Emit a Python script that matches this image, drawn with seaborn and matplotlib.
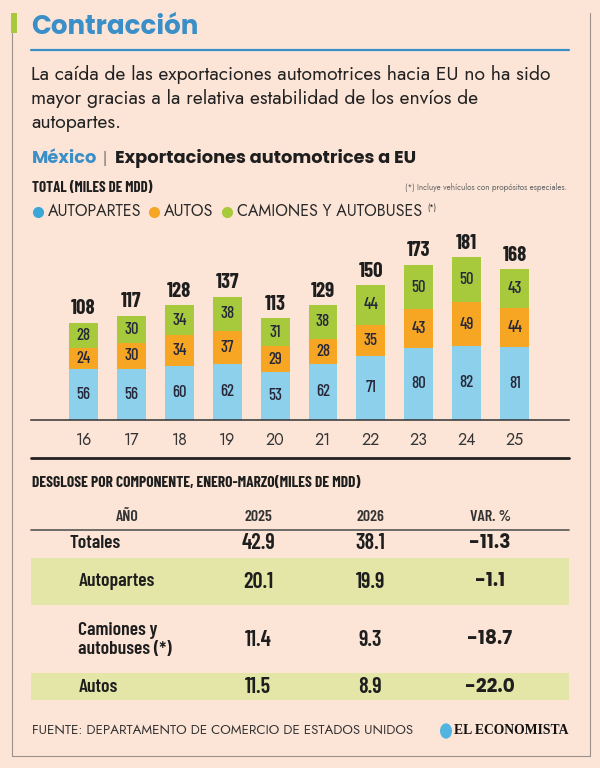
import matplotlib
matplotlib.use('Agg')
import matplotlib.pyplot as plt
import seaborn as sns
import pandas as pd
from matplotlib.patches import Rectangle, Circle
from matplotlib.lines import Line2D
from matplotlib import font_manager as fm

# chart data (miles de MDD)
years = ['16', '17', '18', '19', '20', '21', '22', '23', '24', '25']
autopartes = [56, 56, 60, 62, 53, 62, 71, 80, 82, 81]
autos = [24, 30, 34, 37, 29, 28, 35, 43, 49, 44]
camiones = [28, 30, 34, 38, 31, 38, 44, 50, 50, 43]
totales = [108, 117, 128, 137, 113, 129, 150, 173, 181, 168]

# table data
tbl_labels = ['Totales', 'Autopartes', 'Camiones y\nautobuses (*)', 'Autos']
tbl_2025 = [42.9, 20.1, 11.4, 11.5]
tbl_2026 = [38.1, 19.9, 9.3, 8.9]
tbl_var = [-11.3, -1.1, -18.7, -22.0]

BG = '#FCE5D7'
BLUE = '#8DD0EB'
ORANGE = '#F6A623'
GREEN = '#A7CA3C'
TITLE_BLUE = '#3B8FC8'
BAND = '#E3E6A6'
FRAME = '#9C918B'
DARK = '#1E1E1E'

fonts = fm.fontManager.ttflist
names = {f.name for f in fonts}


def pick(*cands):
    return next(c for c in cands if c in names)


def pick_bold(*cands):
    return next(c for c in cands if any(f.name == c and f.weight in (700, 'bold') for f in fonts))


GEOM = pick('Jost', 'Futura', 'League Spartan', 'Lato', 'DejaVu Sans')
GEOM_B = pick_bold('Jost', 'League Spartan', 'Outfit', 'Kumbh Sans', 'Poppins', 'Montserrat', 'Lato', 'DejaVu Sans')
COND = pick('Barlow Condensed', 'Archivo Narrow', 'Asap Condensed', 'DejaVu Sans')

sns.set_theme(style='white', rc={'figure.facecolor': BG, 'axes.facecolor': BG})
plt.rcParams['font.family'] = [GEOM, 'DejaVu Sans']

W, H = 600, 768


def fx(x):
    return x / W


def fy(y):
    return 1 - y / H


fig = plt.figure(figsize=(6, 7.68), dpi=100)

# frame and side mark
fig.add_artist(Rectangle((fx(11), fy(33)), 6 / W, 20 / H, color=GREEN, lw=0))
fig.add_artist(Line2D([fx(11.5), fx(11.5)], [fy(33), fy(756)], color=FRAME, lw=0.8))
fig.add_artist(Line2D([fx(590), fx(590)], [fy(13), fy(756)], color=FRAME, lw=0.8))
fig.add_artist(Line2D([fx(11.5), fx(590)], [fy(756), fy(756)], color=FRAME, lw=0.8))

# title + intro
fig.text(fx(31), fy(28), 'Contracción', family=GEOM_B, weight='bold', fontsize=18.8,
         color=TITLE_BLUE, va='center')
fig.add_artist(Line2D([fx(31), fx(569)], [fy(49.5), fy(49.5)], color=TITLE_BLUE, lw=1.6))
intro = ['La caída de las exportaciones automotrices hacia EU no ha sido',
         'mayor gracias a la relativa estabilidad de los envíos de',
         'autopartes.']
for k, line in enumerate(intro):
    fig.text(fx(31), fy(75 + 24 * k), line, fontsize=13.9, color='#222222', va='center')

fig.text(fx(32), fy(159), 'México', family=GEOM_B, weight='bold', fontsize=12.8,
         color=TITLE_BLUE, va='center')
fig.text(fx(103), fy(159), '|', fontsize=11, color='#666666', va='center')
fig.text(fx(115), fy(159), 'Exportaciones automotrices a EU', family=GEOM_B, weight='bold',
         fontsize=12.8, color=DARK, va='center')
fig.text(fx(32), fy(188), 'TOTAL (MILES DE MDD)', family=COND,
         weight='bold', fontsize=10.8, color=DARK, va='center')
fig.text(fx(567), fy(187), '(*) Incluye vehículos con propósitos especiales.',
         fontsize=5.8, color='#666666', ha='right', va='center')

# legend
leg = [(38, 48, 'AUTOPARTES', '#3BA7D8'), (154, 164, 'AUTOS', ORANGE),
       (227, 237, 'CAMIONES Y AUTOBUSES', GREEN)]
for dx, tx, lab, col in leg:
    fig.add_artist(Line2D([fx(dx)], [fy(212)], marker='o', ms=7, color=col, ls=''))
    fig.text(fx(tx), fy(212), lab, fontsize=11.5, color='#2A2A2A', va='center')
fig.text(fx(427), fy(208), '(*)', fontsize=5.5, color='#2A2A2A', va='center')

# stacked bars
df = pd.DataFrame({'year': years, 'autopartes': autopartes, 'autos': autos, 'camiones': camiones})
df['mid'] = df['autopartes'] + df['autos']
df['top'] = df['mid'] + df['camiones']

ax = fig.add_axes([fx(31), fy(419.5), fx(569) - fx(31), (419.5 - 230) / H])
for col, c in [('top', GREEN), ('mid', ORANGE), ('autopartes', BLUE)]:
    sns.barplot(data=df, x='year', y=col, color=c, saturation=1, width=0.605,
                linewidth=0, ax=ax, order=years)

for i in range(len(years)):
    base = 0
    for vals in (autopartes, autos, camiones):
        ax.text(i, base + vals[i] / 2, str(vals[i]), ha='center', va='center',
                family=COND, weight='medium', fontsize=12, color='#26283A')
        base += vals[i]
    ax.annotate(str(totales[i]), (i, df['top'][i]), xytext=(0, 10), textcoords='offset points',
                ha='center', va='center', family=COND, weight='bold', fontsize=15, color=DARK)

ax.set_xlim(-1.094, 10.134)
ax.set_ylim(0, 211.7)
ax.set_xlabel('')
ax.set_ylabel('')
ax.set_yticks([])
sns.despine(ax=ax, left=True)
ax.spines['bottom'].set_color('#333333')
ax.spines['bottom'].set_linewidth(1.1)
ax.tick_params(axis='x', length=0, pad=9, labelsize=11.5, labelcolor='#333333')

fig.add_artist(Line2D([fx(31), fx(569)], [fy(458), fy(458)], color='#222222', lw=2))

# table
fig.text(fx(32), fy(483), 'DESGLOSE POR COMPONENTE, ENERO-MARZO(MILES DE MDD)', family=COND,
         weight='bold', fontsize=11.2, color=DARK, va='center')
hdr_y = 517
for x, lab in [(127, 'AÑO'), (258, '2025'), (370, '2026'), (490, 'VAR. %')]:
    fig.text(fx(x), fy(hdr_y), lab, family=COND, weight='semibold',
             fontsize=11.5, color='#333333', ha='center', va='center')
fig.add_artist(Line2D([fx(31), fx(569)], [fy(530), fy(530)], color='#555555', lw=1.2))

for top, bot in [(558, 605), (673, 700)]:
    fig.add_artist(Rectangle((fx(31), fy(bot)), fx(569) - fx(31), (bot - top) / H,
                             color=BAND, lw=0))

row_y = [543, 582, 640, 687]
row_x = [70, 78.5, 78.5, 78.5]
for k in range(len(tbl_labels)):
    fig.text(fx(row_x[k]), fy(row_y[k]), tbl_labels[k], family=COND,
             weight='semibold', fontsize=14, color=DARK, va='center', linespacing=1.15)
    fig.text(fx(258), fy(row_y[k]), f'{tbl_2025[k]:.1f}', family=COND,
             weight='semibold', fontsize=16, color=DARK, ha='center', va='center')
    fig.text(fx(370), fy(row_y[k]), f'{tbl_2026[k]:.1f}', family=COND,
             weight='semibold', fontsize=16, color=DARK, ha='center', va='center')
    fig.text(fx(490), fy(row_y[k]), f'{tbl_var[k]:.1f}', family=GEOM_B, weight='bold',
             fontsize=13.5, color=DARK, ha='center', va='center')

# footer
fig.text(fx(32), fy(731), 'FUENTE: DEPARTAMENTO DE COMERCIO DE ESTADOS UNIDOS',
         fontsize=9.6, color='#333333', va='center')
fig.add_artist(Circle((fx(446), fy(731)), 6 / W, color='#52B4E0', lw=0,
                      transform=fig.transFigure))
fig.text(fx(568), fy(731), 'EL ECONOMISTA', family='Liberation Serif', weight='bold',
         fontsize=9.8, color='#111111', ha='right', va='center')

fig.savefig('out.png', dpi=100, facecolor=BG)
